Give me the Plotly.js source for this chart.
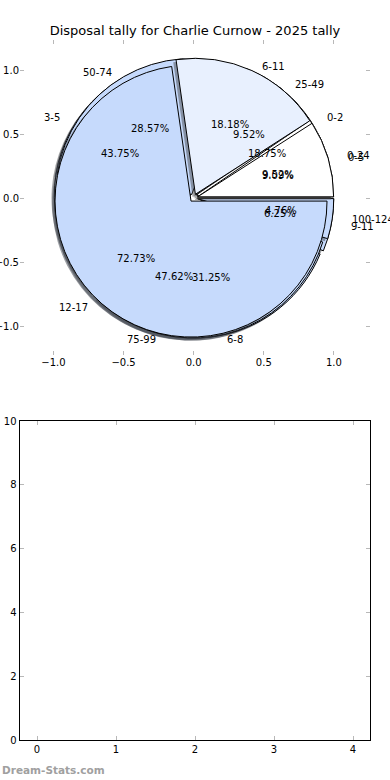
<!DOCTYPE html>
<html><head><meta charset="utf-8">
<script src="https://cdn.plot.ly/plotly-3.0.1.min.js"></script>
<style>html,body{margin:0;padding:0;background:#fff}#chart{width:390px;height:780px}</style>
</head><body><div id="chart"></div>
<script>
// ---- data ----
const labels1 = ['0-5', '6-11', '12-17'];
const values1 = [1, 2, 8];
const labels2 = ['0-24', '25-49', '50-74', '75-99', '100-124'];
const values2 = [2, 2, 6, 10, 1];
const labels3 = ['0-2', '3-5', '6-8', '9-11'];
const values3 = [3, 7, 5, 1];
const pieTicks = [-1.0, -0.5, 0.0, 0.5, 1.0];
const x2Ticks = [0, 1, 2, 3, 4];
const y2Ticks = [0, 2, 4, 6, 8, 10];
const titleText = 'Disposal tally for Charlie Curnow - 2025 tally';
const watermark = 'Dream-Stats.com';

// ---- styling / geometry ----
const W = 390, H = 780;
const FONT = 'DejaVu Sans, sans-serif';
const palette = ['#ffffff', '#e8f0fe', '#c6dafc', '#c6dafc', '#c6dafc'];
const explode = 0.03;
const cx = 193.7, cy = 198, R = 136;       // pie centre / radius in px
const pxX = 140.25, pxY = 128;              // px per unit, top axes
const shDx = -2.8, shDy = 2.6;              // shadow offset px
const sum = a => a.reduce((s, v) => s + v, 0);

function dom(x0, y0) {
  const h = R * (1 + explode);
  return {x: [(x0 - h) / W, (x0 + h) / W], y: [1 - (y0 + h) / H, 1 - (y0 - h) / H]};
}
function shadowColor(c) {
  const n = parseInt(c.slice(1), 16);
  const r = Math.round(((n >> 16) & 255) * 0.3), g = Math.round(((n >> 8) & 255) * 0.3), b = Math.round((n & 255) * 0.3);
  return 'rgba(' + r + ',' + g + ',' + b + ',0.5)';
}
function pieTrace(labels, values, shadow) {
  const cols = values.map((v, i) => shadow ? shadowColor(palette[i]) : palette[i]);
  return {
    type: 'pie', labels: labels, values: values, sort: false,
    direction: 'counterclockwise', rotation: 90 - 360 * values[0] / sum(values),
    pull: values.map(() => explode),
    marker: {colors: cols, line: {color: shadow ? 'rgba(0,0,0,0)' : '#000', width: shadow ? 0 : 1}},
    textinfo: 'none', hoverinfo: 'label+percent', showlegend: false,
    domain: shadow ? dom(cx + shDx, cy + shDy) : dom(cx, cy)
  };
}
function pieAnnots(labels, values) {
  const tot = sum(values); let cum = 0; const out = [];
  values.forEach((v, i) => {
    const th = 2 * Math.PI * (cum + v / 2) / tot; cum += v;
    const ex = explode * Math.cos(th), ey = explode * Math.sin(th);
    const lx = ex + 1.1 * Math.cos(th), ly = ey + 1.1 * Math.sin(th);
    out.push({x: lx, y: ly, xref: 'x', yref: 'y', text: labels[i], showarrow: false,
      xanchor: lx > 0 ? 'left' : 'right', yanchor: 'middle', font: {family: FONT, size: 10, color: '#000'}});
    const px = ex + 0.6 * Math.cos(th), py = ey + 0.6 * Math.sin(th);
    out.push({x: px, y: py, xref: 'x', yref: 'y', text: (100 * v / tot).toFixed(2) + '%', showarrow: false,
      xanchor: 'center', yanchor: 'middle', font: {family: FONT, size: 10, color: '#000'}});
  });
  return out;
}

const traces = [
  {type: 'scatter', x: [], y: [], xaxis: 'x', yaxis: 'y', showlegend: false},
  {type: 'scatter', x: [], y: [], xaxis: 'x2', yaxis: 'y2', showlegend: false},
  pieTrace(labels3, values3, true), pieTrace(labels3, values3, false),
  pieTrace(labels2, values2, true), pieTrace(labels2, values2, false),
  pieTrace(labels1, values1, true), pieTrace(labels1, values1, false)
];

const tickStyle = {ticks: 'inside', ticklen: 4, tickcolor: '#b8b8b8', tickwidth: 1,
  showgrid: false, zeroline: false, fixedrange: true,
  tickfont: {family: FONT, size: 10, color: '#000'}};

const layout = {
  width: W, height: H, margin: {l: 0, r: 0, t: 0, b: 0},
  paper_bgcolor: '#fff', plot_bgcolor: 'rgba(0,0,0,0)',
  title: {text: titleText, x: 0.5, xanchor: 'center', y: 1 - 30 / H, yanchor: 'middle',
    font: {family: FONT, size: 13, color: '#000'}},
  xaxis: Object.assign({}, tickStyle, {domain: [20 / W, 370 / W], anchor: 'y',
    range: [(20 - cx) / pxX, (370 - cx) / pxX], tickvals: pieTicks, tickformat: '.1f',
    showline: false, mirror: 'ticks'}),
  yaxis: Object.assign({}, tickStyle, {domain: [1 - 355 / H, 1 - 40 / H], anchor: 'x',
    range: [(cy - 355) / pxY, (cy - 40) / pxY], tickvals: pieTicks, tickformat: '.1f',
    showline: false, mirror: 'ticks'}),
  xaxis2: Object.assign({}, tickStyle, {domain: [19.5 / W, 370 / W], anchor: 'y2',
    range: [(19.5 - 37) / 79, 4 + (370 - 353) / 79], tickvals: x2Ticks,
    showline: true, linecolor: '#000', linewidth: 1, mirror: 'ticks'}),
  yaxis2: Object.assign({}, tickStyle, {domain: [1 - 740 / H, 1 - 421 / H], anchor: 'x2',
    range: [0, 10], tickvals: y2Ticks,
    showline: true, linecolor: '#000', linewidth: 1, mirror: 'ticks'}),
  annotations: [].concat(
    pieAnnots(labels3, values3), pieAnnots(labels2, values2), pieAnnots(labels1, values1),
    [{xref: 'paper', yref: 'paper', x: 0, y: 1 - 770 / H, xanchor: 'left', yanchor: 'middle',
      text: '<b>' + watermark + '</b>', showarrow: false, font: {family: FONT, size: 10.5, color: '#a0a0a0'}}]
  )
};

Plotly.newPlot('chart', traces, layout, {displayModeBar: false, staticPlot: true});
</script></body></html>
